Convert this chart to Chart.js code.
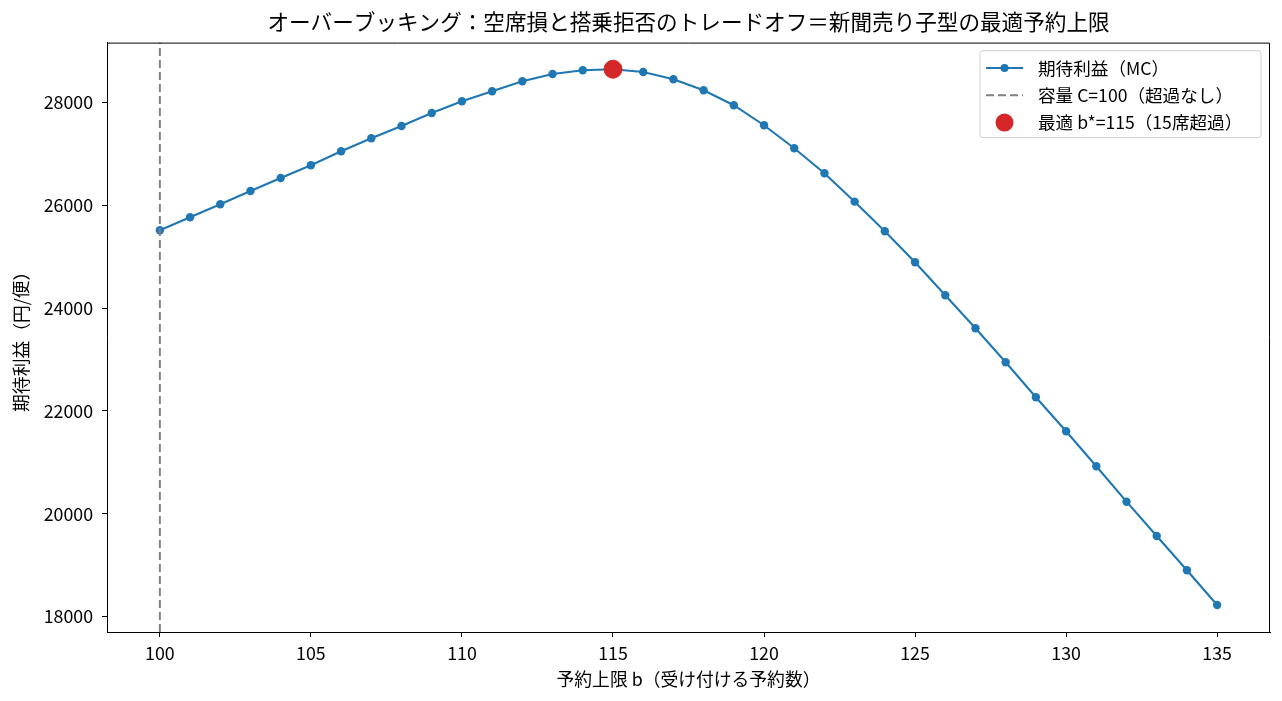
<!DOCTYPE html>
<html>
<head>
<meta charset="utf-8">
<script src="https://cdn.jsdelivr.net/npm/chart.js@4"></script>
<style>
  body { margin: 0; background: #fff; }
  #wrap { width: 1282px; height: 701px; }
</style>
</head>
<body>
<div id="wrap"><canvas id="chart" width="1282" height="701"></canvas></div>
<script>
// bookings limit b and expected profit
const limits = [100, 101, 102, 103, 104, 105, 106, 107, 108, 109, 110, 111, 112, 113, 114, 115, 116, 117,
    118, 119, 120, 121, 122, 123, 124, 125, 126, 127, 128, 129, 130, 131, 132, 133, 134, 135];
const profit = [25513, 25764, 26017, 26276, 26528, 26775, 27047, 27300, 27539, 27792, 28019, 28214, 28408,
    28550, 28622, 28642, 28589, 28447, 28233, 27942, 27553, 27106, 26620, 26068, 25492, 24890, 24248,
    23607, 22946, 22265, 21604, 20924, 20236, 19569, 18902, 18227];
const capacity = 100;
const bestB = 115;
const bestProfit = 28642;
const xTicks = [100, 105, 110, 115, 120, 125, 130, 135];
const yTicks = [18000, 20000, 22000, 24000, 26000, 28000];
const yMin = 17703, yMax = 29159;

const legendItems = [
    { label: '期待利益（MC）', kind: 'line' },
    { label: '容量 C=100（超過なし）', kind: 'dash' },
    { label: '最適 b*=115（15席超過）', kind: 'dot' }
];

const FONT = '"Noto Sans CJK JP", "Noto Sans", sans-serif';
Chart.defaults.font.family = FONT;
Chart.defaults.color = '#000';

const frameAndLegend = {
    id: 'frameAndLegend',
    afterDraw(chart) {
        const ctx = chart.ctx;
        const a = chart.chartArea;
        ctx.save();
        // top and right spines (left/bottom come from the axis borders)
        ctx.strokeStyle = '#000';
        ctx.lineWidth = 1;
        ctx.beginPath();
        ctx.moveTo(a.left, a.top + 0.5);
        ctx.lineTo(a.right - 0.5, a.top + 0.5);
        ctx.lineTo(a.right - 0.5, a.bottom);
        ctx.stroke();

        // legend box, upper right inside the axes
        const bx = a.right - 290, by = a.top + 8, bw = 281, bh = 87;
        ctx.beginPath();
        ctx.roundRect(bx, by, bw, bh, 3);
        ctx.fillStyle = 'rgba(255,255,255,0.8)';
        ctx.fill();
        ctx.strokeStyle = '#d0d0d0';
        ctx.lineWidth = 1;
        ctx.stroke();

        ctx.font = '17.6px ' + FONT;
        ctx.textBaseline = 'middle';
        ctx.textAlign = 'left';
        legendItems.forEach((item, i) => {
            const cy = by + 17.5 + i * 27.2;
            const x0 = bx + 6, x1 = bx + 43;
            if (item.kind === 'line') {
                ctx.strokeStyle = '#1f77b4';
                ctx.lineWidth = 2;
                ctx.setLineDash([]);
                ctx.beginPath(); ctx.moveTo(x0, cy); ctx.lineTo(x1, cy); ctx.stroke();
                ctx.fillStyle = '#1f77b4';
                ctx.beginPath(); ctx.arc((x0 + x1) / 2, cy, 4, 0, Math.PI * 2); ctx.fill();
            } else if (item.kind === 'dash') {
                ctx.strokeStyle = '#808080';
                ctx.lineWidth = 2;
                ctx.setLineDash([8, 4]);
                ctx.beginPath(); ctx.moveTo(x0, cy); ctx.lineTo(x1, cy); ctx.stroke();
                ctx.setLineDash([]);
            } else {
                ctx.fillStyle = '#d62728';
                ctx.beginPath(); ctx.arc((x0 + x1) / 2, cy, 9, 0, Math.PI * 2); ctx.fill();
            }
            ctx.fillStyle = '#000';
            ctx.fillText(item.label, bx + 58, cy);
        });
        ctx.restore();
    }
};

const ctx = document.getElementById('chart').getContext('2d');
new Chart(ctx, {
    type: 'line',
    data: {
        datasets: [
            {
                label: '容量 C=100（超過なし）',
                data: [{ x: capacity, y: yMin }, { x: capacity, y: yMax }],
                borderColor: '#808080',
                borderWidth: 2,
                borderDash: [8, 4],
                pointRadius: 0,
                order: 1
            },
            {
                label: '最適 b*=115（15席超過）',
                type: 'scatter',
                data: [{ x: bestB, y: bestProfit }],
                backgroundColor: '#d62728',
                borderColor: '#d62728',
                pointRadius: 9,
                order: 0
            },
            {
                label: '期待利益（MC）',
                data: limits.map((b, i) => ({ x: b, y: profit[i] })),
                borderColor: '#1f77b4',
                backgroundColor: '#1f77b4',
                borderWidth: 2.1,
                pointRadius: 4.2,
                pointBorderWidth: 0,
                tension: 0,
                order: 2
            }
        ]
    },
    options: {
        responsive: false,
        animation: false,
        devicePixelRatio: 1,
        layout: { padding: { left: 0, right: 12, top: 0, bottom: 0 } },
        plugins: {
            legend: { display: false },
            tooltip: { enabled: false },
            title: {
                display: true,
                fullSize: false,
                text: 'オーバーブッキング：空席損と搭乗拒否のトレードオフ＝新聞売り子型の最適予約上限',
                font: { size: 21.6, weight: 'normal' },
                color: '#000',
                padding: { top: 9.1, bottom: 7.6 }
            }
        },
        scales: {
            x: {
                type: 'linear',
                min: 98.25,
                max: 136.75,
                afterBuildTicks: (scale) => { scale.ticks = xTicks.map(v => ({ value: v })); },
                afterFit: (scale) => { scale.height = 69; },
                ticks: { font: { size: 17.8 }, padding: 5.5, maxRotation: 0, callback: (v) => String(v) },
                grid: { display: true, drawOnChartArea: false, drawTicks: true, tickLength: 5, color: '#000' },
                border: { display: true, color: '#000', width: 1 },
                title: {
                    display: true,
                    text: '予約上限 b（受け付ける予約数）',
                    font: { size: 17.8 },
                    padding: { top: 0, bottom: 11.3 }
                }
            },
            y: {
                type: 'linear',
                min: yMin,
                max: yMax,
                afterBuildTicks: (scale) => { scale.ticks = yTicks.map(v => ({ value: v })); },
                afterFit: (scale) => { scale.width = 107; },
                ticks: { font: { size: 17.8 }, padding: 9, callback: (v) => String(v) },
                grid: { display: true, drawOnChartArea: false, drawTicks: true, tickLength: 5, color: '#000' },
                border: { display: true, color: '#000', width: 1 },
                title: {
                    display: true,
                    text: '期待利益（円/便）',
                    font: { size: 17.8 },
                    padding: { top: 11, bottom: 0 }
                }
            }
        }
    },
    plugins: [frameAndLegend]
});
</script>
</body>
</html>
